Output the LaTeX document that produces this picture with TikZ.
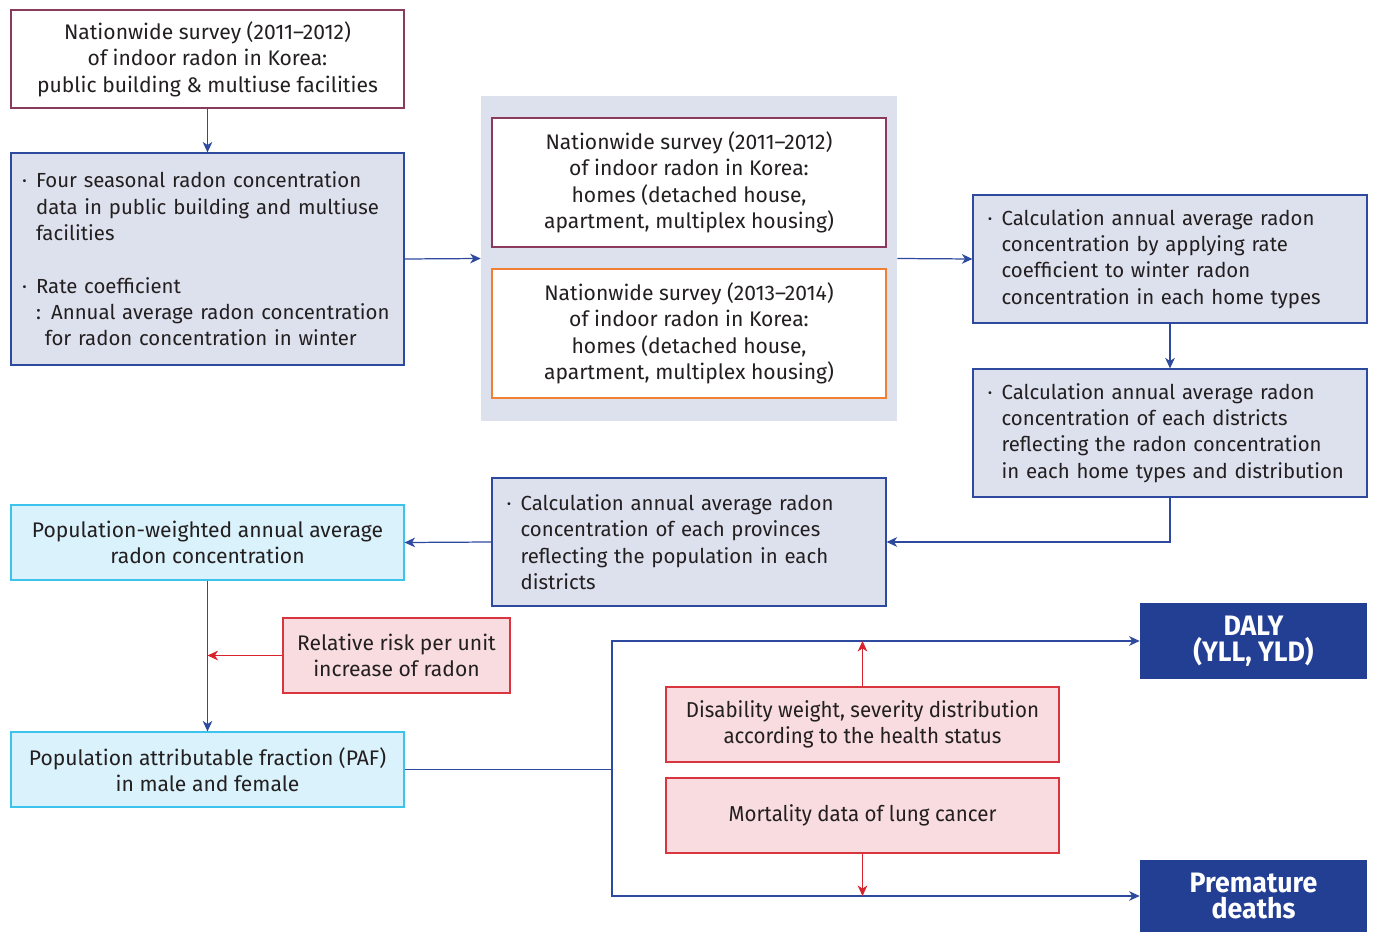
\documentclass[tikz,border=0pt]{standalone}
\usepackage{fontspec}
\setmainfont{Fira Sans}
\newfontfamily\condfont[FakeStretch=0.95]{Fira Sans}
\usetikzlibrary{positioning}
\usetikzlibrary{calc,arrows.meta}

\definecolor{lineblue}{HTML}{2E4A9E}
\definecolor{boxblue}{HTML}{DDE1EE}
\definecolor{maroon}{HTML}{8A3A5C}
\definecolor{orangeline}{HTML}{F08033}
\definecolor{cyanline}{HTML}{3CC4EE}
\definecolor{cyanfill}{HTML}{D9F2FB}
\definecolor{redline}{HTML}{D8353F}
\definecolor{redfill}{HTML}{F8DCDF}
\definecolor{redarrow}{HTML}{D8232F}
\definecolor{darkblue}{HTML}{233F94}
\definecolor{txt}{HTML}{231F20}

\hyphenpenalty=10000
\newcommand{\bl}{\makebox[8pt][l]{·}}
\newcommand{\ind}{\hspace*{8pt}}

\begin{document}
\begin{tikzpicture}
	[   x=0.02cm, y=-0.02cm,
	    bnode/.style={draw=#1,line width=0.7pt,text=txt,font=\fontsize{12}{15}\selectfont,
	                  align=center,inner sep=0pt},
	    wide/.style={minimum width=7.86cm,minimum height=#1},
	    bullets/.style={font=\fontsize{11.6}{15}\selectfont,align=left,text width=#1},
	]
	\tikzset{blue arrow/.style={draw=lineblue,line width=0.7pt,-{Stealth[length=6pt,width=5.5pt,inset=1.8pt]}}}
	\tikzset{red arrow/.style={draw=redarrow,line width=0.7pt,-{Stealth[length=6pt,width=5.5pt,inset=1.8pt]}}}
	\useasboundingbox (0,0) rectangle (1375,932);
	
	% left column
	\node[bnode=maroon,fill=white,wide=1.96cm] (top) at (207.5,59)
		{Nationwide survey (2011--2012)\\of indoor radon in Korea:\\public building \& multiuse facilities};
	\node[bnode=lineblue,fill=boxblue,wide=4.24cm,bullets=7.42cm] (four) at (207.5,259)
		{\bl Four seasonal radon concentration\\\ind data in public building and multiuse\\\ind facilities\\[15pt]
		 \bl Rate coefficient\\\ind : Annual average radon concentration\\\ind\hspace*{5pt}for radon concentration in winter};
	
	% home surveys
	\node[fill=boxblue,minimum width=8.32cm,minimum height=6.5cm] (grp) at (689,258.5) {};
	\node[bnode=maroon,fill=white,minimum width=7.88cm,minimum height=2.58cm] (hs-1) at (689,182.5)
		{Nationwide survey (2011--2012)\\of indoor radon in Korea:\\homes (detached house,\\apartment, multiplex housing)};
	\node[bnode=orangeline,fill=white,minimum width=7.88cm,minimum height=2.58cm] (hs-2) at (689,333.5)
		{Nationwide survey (2013--2014)\\of indoor radon in Korea:\\homes (detached house,\\apartment, multiplex housing)};
	
	% calculations
	\node[bnode=lineblue,fill=boxblue,minimum width=7.88cm,minimum height=2.56cm,bullets=7.3cm] (calc-1) at (1170,259)
		{\bl Calculation annual average radon\\\ind concentration by applying rate\\\ind coefficient to winter radon\\\ind concentration in each home types};
	\node[bnode=lineblue,fill=boxblue,minimum width=7.88cm,minimum height=2.56cm,bullets=7.3cm] (calc-2) at (1170,433)
		{\bl Calculation annual average radon\\\ind concentration of each districts\\\ind reflecting the radon concentration\\\ind in each home types and distribution};
	\node[bnode=lineblue,fill=boxblue,minimum width=7.88cm,minimum height=2.56cm,bullets=7.3cm] (prov) at (689,542)
		{\bl Calculation annual average radon\\\ind concentration of each provinces\\\ind reflecting the population in each\\\ind districts};
	
	% population
	\node[bnode=cyanline,fill=cyanfill,wide=1.5cm] (popw) at (207.5,542.5)
		{Population-weighted annual average\\radon concentration};
	\node[bnode=redline,fill=redfill,minimum width=4.54cm,minimum height=1.5cm] (rr) at (396.5,655.5)
		{Relative risk per unit\\increase of radon};
	\node[bnode=cyanline,fill=cyanfill,wide=1.5cm] (paf) at (207.5,769.5)
		{Population attributable fraction (PAF)\\in male and female};
	
	% burden
	\node[bnode=redline,fill=redfill,minimum width=7.86cm,minimum height=1.5cm,font=\condfont\fontsize{12.3}{15}\selectfont] (dw) at (862.5,724.5)
		{Disability weight, severity distribution\\according to the health status};
	\node[bnode=redline,fill=redfill,minimum width=7.86cm,minimum height=1.5cm,font=\condfont\fontsize{12.3}{15}\selectfont] (mort) at (862.5,815.5)
		{Mortality data of lung cancer};
	\node[fill=darkblue,text=white,align=center,minimum width=4.54cm,minimum height=1.52cm,
	      font=\condfont\bfseries\fontsize{16}{15}\selectfont] (daly) at (1253.5,641)
		{DALY\\(YLL, YLD)};
	\node[fill=darkblue,text=white,align=center,minimum width=4.54cm,minimum height=1.44cm,
	      font=\condfont\bfseries\fontsize{16}{15}\selectfont] (prem) at (1253.5,896)
		{Premature\\deaths};
	
	\coordinate (split) at (612,769.5);
	
	\path[blue arrow] (top) -- (four);
	\path[blue arrow] (four.east) -- (grp.west);
	\path[blue arrow] (grp.east) -- (calc-1.west);
	\path[blue arrow] (calc-1) -- (calc-2);
	\path[blue arrow] (calc-2.south) |- (prov.east);
	\path[blue arrow] (prov.west) -- (popw.east);
	\path[blue arrow] (popw) -- (paf);
	\path[red arrow] (rr.west) -- (rr.west -| popw.south);
	\draw[lineblue,line width=0.7pt] (paf.east) -- (split);
	\path[blue arrow] (split) |- (daly.west);
	\path[blue arrow] (split) |- (prem.west);
	\path[red arrow] (dw.north) -- (dw.north |- daly.west);
	\path[red arrow] (mort.south) -- (mort.south |- prem.west);
\end{tikzpicture}
\end{document}
